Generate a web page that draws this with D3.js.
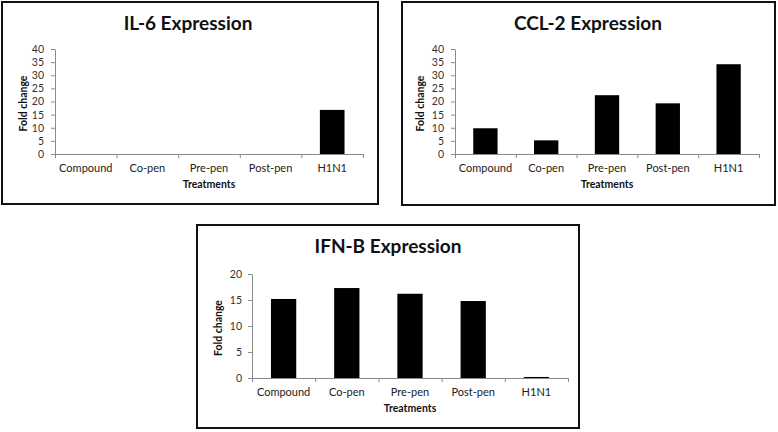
<!DOCTYPE html>
<html>
<head>
<meta charset="utf-8">
<script src="https://cdn.jsdelivr.net/npm/d3@7"></script>
<style>
  body { margin: 0; background: #fff; }
  svg { display: block; }
  text { font-family: Lato, "Open Sans", sans-serif; }
</style>
</head>
<body>
<div id="chart-container"></div>
<script>
// Data
const treatments = ["Compound", "Co-pen", "Pre-pen", "Post-pen", "H1N1"];
const il6Values = [0, 0, 0, 0, 16.8];
const ccl2Values = [9.8, 5.2, 22.4, 19.3, 34.2];
const ifnbValues = [15.2, 17.3, 16.2, 14.8, 0.2];
const ticks40 = [0, 5, 10, 15, 20, 25, 30, 35, 40];
const ticks20 = [0, 5, 10, 15, 20];

const svg = d3.select("#chart-container")
  .append("svg")
  .attr("width", 778)
  .attr("height", 432);

function drawPanel(opts) {
  const g = svg.append("g");

  // Frame
  g.append("rect")
    .attr("x", opts.box[0])
    .attr("y", opts.box[1])
    .attr("width", opts.box[2])
    .attr("height", opts.box[3])
    .attr("fill", "#fff")
    .attr("stroke", "#111")
    .attr("stroke-width", 2);

  const x0 = opts.plot[0], y0 = opts.plot[1], x1 = opts.plot[2], y1 = opts.plot[3];

  const xScale = d3.scaleBand()
    .domain(treatments)
    .range([x0, x1])
    .paddingInner(0.6)
    .paddingOuter(0.3);

  const yScale = d3.scaleLinear()
    .domain([0, opts.ticks[opts.ticks.length - 1]])
    .range([y1, y0]);

  // Bars
  g.selectAll(".bar")
    .data(opts.values)
    .enter()
    .append("rect")
    .attr("class", "bar")
    .attr("x", (d, i) => xScale(treatments[i]))
    .attr("width", xScale.bandwidth())
    .attr("y", d => yScale(d))
    .attr("height", d => yScale(0) - yScale(d))
    .attr("fill", "#000");

  // Y axis
  const yAxis = g.append("g")
    .attr("transform", `translate(${x0},0)`)
    .call(d3.axisLeft(yScale).tickValues(opts.ticks).tickSize(4).tickSizeOuter(0).tickPadding(opts.tickPad));
  yAxis.select(".domain").attr("stroke", "#8a8a8a");
  yAxis.selectAll(".tick line").attr("stroke", "#8a8a8a");
  yAxis.selectAll(".tick text")
    .attr("fill", "#333")
    .style("font-size", "10.5px")
    .style("font-family", "Lato, sans-serif");

  // X axis: ticks on category boundaries
  const bScale = d3.scaleLinear().domain([0, treatments.length]).range([x0, x1]);
  const xAxis = g.append("g")
    .attr("transform", `translate(0,${y1})`)
    .call(d3.axisBottom(bScale).tickValues(d3.range(treatments.length + 1)).tickSize(4).tickSizeOuter(0).tickFormat(""));
  xAxis.select(".domain").attr("stroke", "#8a8a8a");
  xAxis.selectAll(".tick line").attr("stroke", "#8a8a8a");

  // Category labels
  g.selectAll(".cat")
    .data(treatments)
    .enter()
    .append("text")
    .attr("x", d => xScale(d) + xScale.bandwidth() / 2)
    .attr("y", y1 + 18)
    .attr("text-anchor", "middle")
    .attr("fill", "#222")
    .style("font-size", "11px")
    .text(d => d);

  // Axis titles
  g.append("text")
    .attr("x", (x0 + x1) / 2)
    .attr("y", y1 + 34)
    .attr("text-anchor", "middle")
    .attr("fill", "#111")
    .style("font-size", "10.5px")
    .style("font-weight", "bold")
    .text("Treatments");

  g.append("text")
    .attr("transform", `translate(${opts.ylabX},${(y0 + y1) / 2 + 2}) rotate(-90)`)
    .attr("text-anchor", "middle")
    .attr("fill", "#111")
    .style("font-size", "10.5px")
    .style("font-weight", "bold")
    .text("Fold change");

  // Title
  g.append("text")
    .attr("x", opts.titleX)
    .attr("y", opts.titleY)
    .attr("text-anchor", "middle")
    .attr("fill", "#111")
    .style("font-size", "19px")
    .style("font-weight", "bold")
    .text(opts.title);
}

drawPanel({
  title: "IL-6 Expression",
  values: il6Values,
  ticks: ticks40,
  box: [2, 2, 376, 202],
  plot: [55, 49, 363, 154],
  titleX: 188, titleY: 30,
  ylabX: 27, tickPad: 7
});

drawPanel({
  title: "CCL-2 Expression",
  values: ccl2Values,
  ticks: ticks40,
  box: [402, 2, 373, 203],
  plot: [455, 49, 759, 154],
  titleX: 588, titleY: 30,
  ylabX: 424, tickPad: 7
});

drawPanel({
  title: "IFN-B Expression",
  values: ifnbValues,
  ticks: ticks20,
  box: [197, 225, 382, 203],
  plot: [252, 274, 568, 378],
  titleX: 388, titleY: 253,
  ylabX: 222, tickPad: 6
});
</script>
</body>
</html>
